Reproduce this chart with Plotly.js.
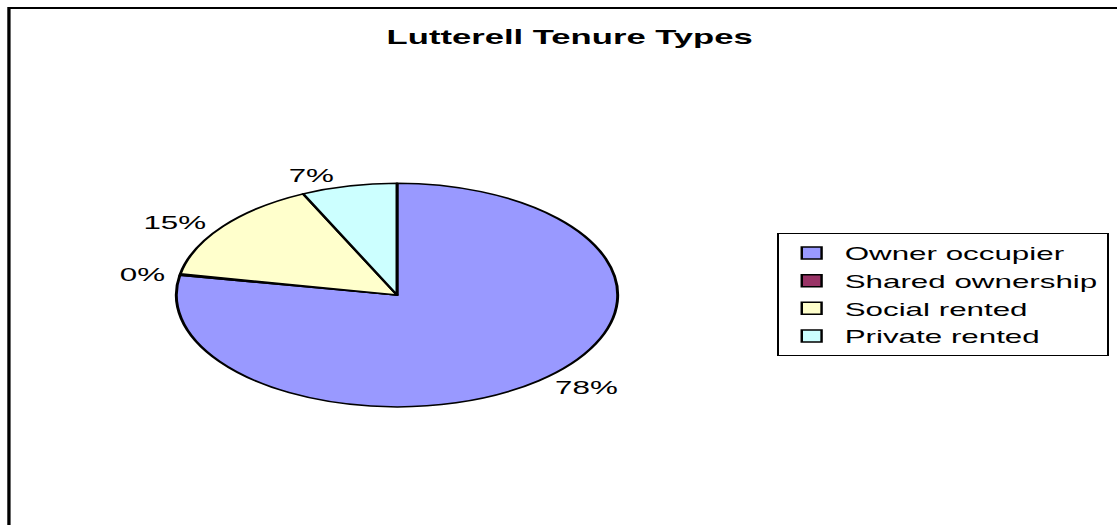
<!DOCTYPE html>
<html>
<head>
<meta charset="utf-8">
<script src="https://cdn.plot.ly/plotly-3.0.1.min.js"></script>
<style>
html,body{margin:0;padding:0;background:#fff;overflow:hidden;width:1117px;height:525px;}
#chart{width:677px;height:525px;transform:scale(1.65,1);transform-origin:0 0;}
</style>
</head>
<body>
<div id="chart"></div>
<script>
// Data
const categories = ["Owner occupier", "Shared ownership", "Social rented", "Private rented"];
const shares = [78, 0.2, 15, 7];
const sliceColors = ["#9999FF", "#993366", "#FFFFCC", "#CCFFFF"];
const chartTitle = "Lutterell Tenure Types";

const font = "Liberation Sans, Arial, sans-serif";
const PIE_STRETCH = 1.196; // extra horizontal stretch of the pie (ellipse look)

const trace = {
  type: "pie",
  labels: categories,
  values: shares,
  sort: false,
  direction: "clockwise",
  rotation: 0,
  marker: {colors: sliceColors, line: {color: "#000", width: 1.5}},
  textposition: "outside",
  texttemplate: "%{percent:.0%}",
  textfont: {family: font, size: 19, color: "#000"},
  domain: {x: [0.19, 0.5208], y: [0.225, 0.651]},
  hoverinfo: "none"
};

const layout = {
  width: 677,
  height: 525,
  margin: {l: 0, r: 0, t: 0, b: 0},
  paper_bgcolor: "#fff",
  plot_bgcolor: "#fff",
  title: {
    text: "<b>" + chartTitle + "</b>",
    x: 0.51, xanchor: "center", xref: "paper",
    y: 0.931, yanchor: "middle", yref: "container",
    font: {family: font, size: 21, color: "#000"}
  },
  showlegend: true,
  legend: {
    x: 0.6956, xanchor: "left", y: 0.556, yanchor: "top",
    bordercolor: "#000", borderwidth: 1, bgcolor: "#fff",
    font: {family: font, size: 19, color: "#000"},
    traceorder: "normal"
  },
  shapes: [{
    type: "rect", xref: "paper", yref: "paper",
    x0: 0.008, x1: 1.05, y0: -0.05, y1: 0.9848,
    line: {color: "#000", width: 2}, fillcolor: "rgba(0,0,0,0)"
  }],
  hovermode: false
};

Plotly.newPlot("chart", [trace], layout, {displayModeBar: false, staticPlot: true}).then(function (gd) {
  const k = PIE_STRETCH;
  gd.querySelectorAll(".pielayer g.slice").forEach(function (slice) {
    const path = slice.querySelector("path.surface");
    if (!path) return;
    const m = /M\s*([-\d.e]+)[ ,]\s*([-\d.e]+)/.exec(path.getAttribute("d") || "");
    if (!m) return;
    const cx = parseFloat(m[1]);
    path.setAttribute("transform", "translate(" + cx + ",0) scale(" + k + ",1) translate(" + (-cx) + ",0)");
    const tg = slice.querySelector("g.slicetext");
    if (tg) {
      const bb = tg.getBBox();
      const tcx = bb.x + bb.width / 2;
      const dx = (k - 1) * (tcx - cx);
      tg.setAttribute("transform", "translate(" + dx + ",0)");
    }
  });
});
</script>
</body>
</html>
